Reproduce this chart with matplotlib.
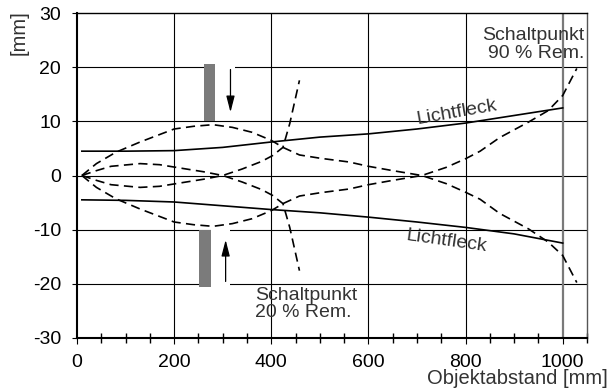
"""Lichtfleck und Schaltpunktkurven (20 % / 90 % Remission) ueber dem Objektabstand."""

import matplotlib

matplotlib.use("Agg")

import matplotlib.pyplot as plt
from matplotlib.ticker import MultipleLocator

plt.rcParams["font.family"] = ["Liberation Sans", "DejaVu Sans"]
plt.rcParams["axes.unicode_minus"] = False

# light spot (solid)
SPOT_X = [10, 100, 200, 300, 400, 500, 600, 700, 800, 900, 1000]
SPOT_UPPER = [4.5, 4.5, 4.6, 5.2, 6.2, 7.1, 7.7, 8.6, 9.7, 11.1, 12.5]
SPOT_LOWER = [-4.5, -4.6, -4.9, -5.6, -6.3, -6.9, -7.7, -8.6, -9.6, -10.8, -12.5]

# wide switching curve (dashed), running out to ~1030 mm
WIDE_X = [10, 40, 80, 130, 165, 200, 240, 280, 320, 360, 400, 424, 458, 500,
          560, 600, 650, 710, 760, 800, 830, 870, 930, 970, 1000, 1029]
WIDE_UPPER = [0, 2.2, 4.3, 6.2, 7.4, 8.6, 9.1, 9.4, 8.9, 8.0, 6.5, 5.2, 3.8, 3.2,
              2.5, 1.7, 0.9, 0.0, -1.5, -3.1, -4.4, -7.0, -9.9, -12.3, -14.8, -19.8]
WIDE_LOWER = [0, -2.2, -4.3, -6.2, -7.4, -8.6, -9.1, -9.4, -8.9, -8.0, -6.5, -5.2, -3.8, -3.2,
              -2.5, -1.7, -0.9, 0.0, 1.5, 3.1, 4.5, 7.0, 9.9, 12.0, 14.8, 19.8]

# narrow switching curve (dashed), ending near 460 mm
NARROW_X = [10, 40, 70, 130, 170, 225, 260, 300, 340, 380, 403, 424, 438, 448, 458]
NARROW_UPPER = [0, 0.9, 1.7, 2.2, 2.0, 1.2, 0.7, 0.0, -1.2, -2.6, -3.7, -5.2, -9.6, -13.6, -17.6]
NARROW_LOWER = [0, -0.9, -1.7, -2.2, -2.0, -1.2, -0.7, 0.0, 1.2, 2.6, 3.7, 5.2, 9.6, 13.6, 17.6]

# gray marker bars: (left, right, bottom, top) in data units
BAR_TOP = (261, 285, 10.0, 20.7)
BAR_BOTTOM = (251, 275, -20.7, -10.0)

# arrows: (x, start y, tip y)
ARROW_TOP = (316, 19.6, 11.7)
ARROW_BOTTOM = (306, -19.6, -11.9)

TEXT_COLOR = "#333333"
DASH = (0, (5.5, 3.2))


def main() -> None:
    fig = plt.figure(figsize=(6.09, 3.89), dpi=100)
    ax = fig.add_axes([77 / 609, 51.3 / 389, 510 / 609, 324.4 / 389])

    ax.set_xlim(0, 1050)
    ax.set_ylim(-30, 30)

    # hand-drawn grid so the white cut-outs can sit on top of it
    for gx in (200, 400, 600, 800):
        ax.axvline(gx, color="black", lw=0.8, zorder=1)
    for gy in (-20, -10, 0, 10, 20):
        ax.axhline(gy, color="black", lw=0.8, zorder=1)
    ax.axvline(1000, color="#7a7a7a", lw=1.6, zorder=1)

    # white cut-outs in the grid beside the bars
    ax.fill_between([BAR_TOP[1], 326], 19, 21, color="white", lw=0, zorder=1.5)
    ax.fill_between([BAR_BOTTOM[1], 316], -21, -9, color="white", lw=0, zorder=1.5)

    for left, right, bottom, top in (BAR_TOP, BAR_BOTTOM):
        ax.bar(left, top - bottom, width=right - left, bottom=bottom,
               align="edge", color="#7b7b7b", lw=0, zorder=2)

    for x, y0, y1 in (ARROW_TOP, ARROW_BOTTOM):
        ax.annotate("", xy=(x, y1), xytext=(x, y0),
                    arrowprops=dict(arrowstyle="-|>,head_length=0.7,head_width=0.18",
                                    mutation_scale=14, color="black", lw=0.9,
                                    shrinkA=0, shrinkB=0),
                    zorder=3)

    ax.plot(SPOT_X, SPOT_UPPER, color="black", lw=1.2, zorder=3)
    ax.plot(SPOT_X, SPOT_LOWER, color="black", lw=1.2, zorder=3)
    for ys in (WIDE_UPPER, WIDE_LOWER):
        ax.plot(WIDE_X, ys, color="black", lw=1.2, ls=DASH, zorder=3)
    for ys in (NARROW_UPPER, NARROW_LOWER):
        ax.plot(NARROW_X, ys, color="black", lw=1.2, ls=DASH, zorder=3)

    # labels inside the plot (va="baseline" sits on the last line here)
    ax.text(701, 9.6, "Lichtfleck", rotation=10, rotation_mode="anchor",
            ha="left", va="baseline", fontsize=14, color=TEXT_COLOR, zorder=4)
    ax.text(676, -12.0, "Lichtfleck", rotation=-8, rotation_mode="anchor",
            ha="left", va="baseline", fontsize=14, color=TEXT_COLOR, zorder=4)
    ax.text(1044, 21.7, "Schaltpunkt\n90 % Rem.", ha="right", va="baseline",
            fontsize=14, linespacing=1.1, color=TEXT_COLOR, zorder=4)
    ax.text(366, -26.2, "Schaltpunkt\n20 % Rem.", ha="left", va="baseline",
            fontsize=14, linespacing=1.05, color=TEXT_COLOR, zorder=4)

    # axes styling
    ax.xaxis.set_major_locator(MultipleLocator(200))
    ax.xaxis.set_minor_locator(MultipleLocator(50))
    ax.yaxis.set_major_locator(MultipleLocator(10))
    ax.tick_params(axis="x", which="major", direction="out", length=4.5,
                   width=0.8, pad=7, labelsize=14)
    ax.tick_params(axis="x", which="minor", direction="inout", length=7, width=1.0)
    ax.tick_params(axis="y", which="major", direction="out", length=3.6,
                   width=0.8, pad=8, labelsize=14)

    ax.spines["left"].set_linewidth(1.5)
    ax.spines["bottom"].set_linewidth(1.5)
    ax.spines["top"].set_linewidth(1.0)
    ax.spines["right"].set_linewidth(1.0)
    ax.spines["right"].set_color("#555555")

    fig.text(19.5 / 609, 1 - 33 / 389, "[mm]", rotation=90, ha="center",
             va="center", fontsize=14.5, color=TEXT_COLOR)
    fig.text(608 / 609, 5 / 389, "Objektabstand [mm]", ha="right",
             va="baseline", fontsize=14.5, color=TEXT_COLOR)

    fig.savefig("out.png", dpi=100)
    plt.close(fig)


if __name__ == "__main__":
    main()
